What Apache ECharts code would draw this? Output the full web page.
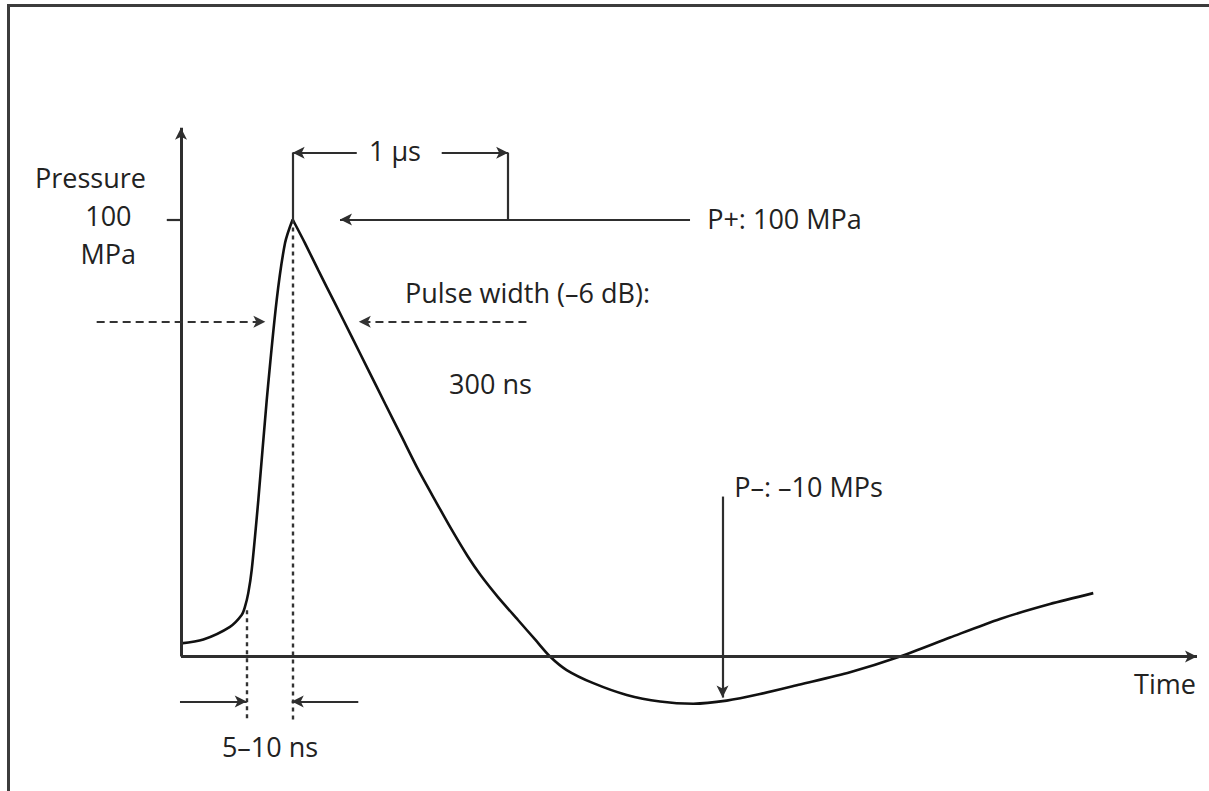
<!DOCTYPE html>
<html><head><meta charset="utf-8">
<script src="https://cdn.jsdelivr.net/npm/echarts@6/dist/echarts.min.js"></script>
<style>
html,body{margin:0;padding:0;background:#fff;}
#frame{position:absolute;left:7px;top:4px;width:1202px;height:787px;border-top:3px solid #3c3c3c;border-left:3px solid #3c3c3c;box-sizing:border-box;}
#chart{position:absolute;left:0;top:0;width:1209px;height:791px;}
</style></head><body>
<div id="frame"></div><div id="chart"></div>
<script>
// ---- data (schematic pulse, arbitrary time units, pressure in MPa) ----
const timeValues = [0, 2.2, 4.82, 5.97, 6.3, 6.62, 6.96, 7.61, 8.44, 9.42, 10.24, 10.99,
  12.2, 13.51, 15.16, 16.8, 18.43, 20.08, 21.72, 23.36, 25.0, 26.67, 28.2, 29.48, 31.2, 33.17, 34.89, 36.32,
  37.96, 40.58, 43.87, 47.15, 50.42, 53.71, 56.99, 60.93, 65.85, 70.77, 75.69, 80.61, 85.53, 89.79];
const pressureValues = [3.0, 3.9, 6.8, 9.5, 11.4, 14.5, 19.8, 35.8, 58.7, 81.6, 94.6, 100,
  94.6, 88.4, 80.8, 73.2, 65.6, 57.9, 50.3, 42.7, 35.8, 28.9, 23.0, 18.65, 13.6, 8.35, 3.78, 0,
  -3.1, -6.1, -8.8, -10.3, -10.8, -10.1, -8.6, -6.4, -3.6, 0, 4.35, 8.6, 12.0, 14.5];
const yTickValues = [100];
const yTickUnit = 'MPa';
const axisNames = {x: 'Time', y: 'Pressure'};
const noteTexts = ['1 µs', 'P+: 100 MPa', 'Pulse width (–6 dB):', '300 ns', 'P–: –10 MPs', '5–10 ns'];
// annotation anchor points (data coordinates)
const noteAnchors = [[21.06, 115.7], [59.4, 100.3], [34.1, 83.2], [30.46, 62.4], [61.76, 38.8], [8.76, -20.7]];
const axisNameAnchors = {x: [96.85, -6.1], y: [-8.91, 109.5]};
const tickLabelX = -7.15;

const FONT = {fontFamily: 'Open Sans', fontSize: 27, color: '#222'};
const all = timeValues.map((t, i) => [t, pressureValues[i]]);
const peakIdx = pressureValues.indexOf(Math.max.apply(null, pressureValues));
const risePart = all.slice(0, peakIdx + 1);
const fallPart = all.slice(peakIdx);

function seg(a, b, style, arrowStart, arrowEnd) {
  return [
    {coord: a, symbol: arrowStart ? 'arrow' : 'none', lineStyle: style},
    {coord: b, symbol: arrowEnd ? 'arrow' : 'none'}
  ];
}
const solidAxis = {color: '#2e2e2e', width: 3, type: 'solid'};
const solid = {color: '#2e2e2e', width: 2.2, type: 'solid'};
const dashed = {color: '#333', width: 2.2, type: [8, 5]};
const dotted = {color: '#333', width: 2.4, type: [4, 4]};

const peakT = timeValues[peakIdx], peakP = pressureValues[peakIdx];
const lines = [
  seg([0, 0], [100, 0], solidAxis, false, true),          // time axis
  seg([0, 0], [0, 121], solidAxis, false, true),          // pressure axis
  seg([-1.4, yTickValues[0]], [0, yTickValues[0]], solid, false, false),    // tick 100
  // 1 µs bracket
  seg([peakT, peakP], [peakT, 115.3], solid, false, false),
  seg([17.3, 115.3], [peakT, 115.3], solid, false, true),
  seg([25.66, 115.3], [32.2, 115.3], solid, false, true),
  seg([32.2, 115.3], [32.2, peakP], solid, false, false),
  seg([50.1, peakP], [15.65, peakP], solid, false, true),
  // pulse width dashed arrows
  seg([-8.3, 76.6], [8.3, 76.6], dashed, false, true),
  seg([34.0, 76.6], [17.5, 76.6], dashed, false, true),
  // dotted verticals
  seg([6.47, 10.6], [6.47, -14.5], dotted, false, false),
  seg([peakT, peakP], [peakT, -15.2], dotted, false, false),
  // rise time arrows
  seg([-0.1, -10.3], [6.47, -10.3], solid, false, true),
  seg([17.45, -10.3], [10.9, -10.3], solid, false, true),
  // P- arrow
  seg([53.3, 36.6], [53.3, -9.4], solid, false, true)
];

function note(text, c, extra) {
  return {coord: c, symbol: 'rect', symbolSize: 1, itemStyle: {color: 'rgba(0,0,0,0)'},
    label: Object.assign({show: true, position: 'inside', formatter: text}, FONT, extra || {})};
}
const points = noteTexts.map((t, i) => note(t, noteAnchors[i]));
points.push(note(axisNames.x, axisNameAnchors.x));
points.push(note(axisNames.y, axisNameAnchors.y));
yTickValues.forEach(v => {
  points.push(note(String(v), [tickLabelX, v], {offset: [0, -4]}));
  points.push(note(yTickUnit, [tickLabelX, v], {offset: [0, 33.5]}));
});

const chart = echarts.init(document.getElementById('chart'), null, {renderer: 'svg'});
chart.setOption({
  animation: false,
  backgroundColor: 'transparent',
  grid: {left: 18.44, top: 127.73, width: 1178.56, height: 638.02, containLabel: false, outerBoundsMode: 'none'},
  xAxis: {type: 'value', min: -16, max: 100, axisLine: {show: false}, axisTick: {show: false},
    axisLabel: {show: false}, splitLine: {show: false}},
  yAxis: {type: 'value', min: -25, max: 121, axisLine: {show: false}, axisTick: {show: false},
    axisLabel: {show: false}, splitLine: {show: false}},
  series: [{
    type: 'line', data: risePart, showSymbol: false, symbol: 'none', clip: false, smooth: 0.3,
    lineStyle: {color: '#111', width: 2.6},
    markLine: {silent: true, animation: false, symbolSize: [9, 12], label: {show: false},
      emphasis: {disabled: true}, data: lines},
    markPoint: {silent: true, animation: false, data: points}
  }, {
    type: 'line', data: fallPart, showSymbol: false, symbol: 'none', clip: false, smooth: 0.25,
    lineStyle: {color: '#111', width: 2.6}
  }]
});
</script>
</body></html>
